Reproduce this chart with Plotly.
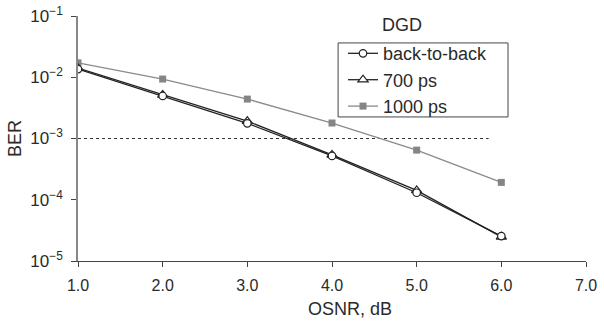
import plotly.graph_objects as go

osnr = [1.0, 2.0, 3.0, 4.0, 5.0, 6.0]
ber_b2b = [1.36e-2, 4.95e-3, 1.77e-3, 5.2e-4, 1.30e-4, 2.55e-5]
ber_700 = [1.41e-2, 5.13e-3, 1.92e-3, 5.4e-4, 1.42e-4, 2.48e-5]
ber_1000 = [1.72e-2, 9.35e-3, 4.4e-3, 1.79e-3, 6.46e-4, 1.92e-4]
thr_x = [1.0, 5.85]
thr_y = [1e-3, 1e-3]

x_ticks = [1, 2, 3, 4, 5, 6, 7]
x_ticktext = ["1.0", "2.0", "3.0", "4.0", "5.0", "6.0", "7.0"]
y_ticks = [1e-1, 1e-2, 1e-3, 1e-4, 1e-5]
y_ticktext = ["10<sup>\u22121</sup>", "10<sup>\u22122</sup>", "10<sup>\u22123</sup>",
              "10<sup>\u22124</sup>", "10<sup>\u22125</sup>"]

font = "Liberation Sans, Arial, sans-serif"
txt = "#2a2a2a"

fig = go.Figure()
fig.add_trace(go.Scatter(x=thr_x, y=thr_y, mode="lines", showlegend=False,
                         line=dict(color="#333333", width=1, dash="dot"), hoverinfo="skip"))
fig.add_trace(go.Scatter(x=osnr, y=ber_1000, mode="lines+markers", name="1000 ps",
                         line=dict(color="#8a8a8a", width=1.3),
                         marker=dict(symbol="square", size=7, color="#858585",
                                     line=dict(width=0))))
fig.add_trace(go.Scatter(x=osnr, y=ber_700, mode="lines+markers", name="700 ps",
                         line=dict(color="#222222", width=1.3),
                         marker=dict(symbol="triangle-up", size=9, color="white",
                                     line=dict(color="#222222", width=1.2))))
fig.add_trace(go.Scatter(x=osnr, y=ber_b2b, mode="lines+markers", name="back-to-back",
                         line=dict(color="#222222", width=1.3),
                         marker=dict(symbol="circle", size=7.5, color="white",
                                     line=dict(color="#222222", width=1.2))))

fig.update_layout(
    width=604, height=323,
    margin=dict(l=78, r=18, t=16, b=62, autoexpand=False),
    paper_bgcolor="white", plot_bgcolor="white",
    font=dict(family=font, size=16, color=txt),
    legend=dict(x=0.5217, y=0.922, xanchor="left", yanchor="top",
                borderwidth=0, bgcolor="rgba(0,0,0,0)",
                traceorder="reversed", font=dict(size=18, color=txt),
                itemwidth=30, tracegroupgap=0),
    shapes=[dict(type="rect", xref="paper", yref="paper", x0=0.512, x1=0.8465,
                 y0=0.588, y1=0.89, line=dict(color="#444444", width=1),
                 fillcolor="white", layer="above")],
    annotations=[
        dict(text="DGD", x=0.638, y=0.963, xref="paper", yref="paper",
             xanchor="center", yanchor="middle",
             showarrow=False, font=dict(size=18, color=txt)),
        dict(text="OSNR, dB", x=0.535, y=-0.196, xref="paper", yref="paper",
             xanchor="center", yanchor="middle",
             showarrow=False, font=dict(size=18, color=txt)),
    ],
)
fig.update_xaxes(range=[1, 7], tickvals=x_ticks, ticktext=x_ticktext,
                 showgrid=False, zeroline=False, showline=True, linecolor="#444444",
                 linewidth=1, ticks="outside", ticklen=5, tickcolor="#444444",
                 ticklabelstandoff=5, tickfont=dict(size=16), automargin=False)
fig.update_yaxes(type="log", range=[-5, -1], tickvals=y_ticks, ticktext=y_ticktext,
                 showgrid=False, zeroline=False, showline=True, linecolor="#888888",
                 linewidth=1.5, ticks="outside", ticklen=5, tickcolor="#444444",
                 ticklabelstandoff=5, tickfont=dict(size=17), automargin=False,
                 title=dict(text="BER", standoff=4, font=dict(size=18)))

fig.write_html("out.html", config={"displayModeBar": False},
               post_script="document.body.style.margin='0';document.body.style.overflow='hidden';")
